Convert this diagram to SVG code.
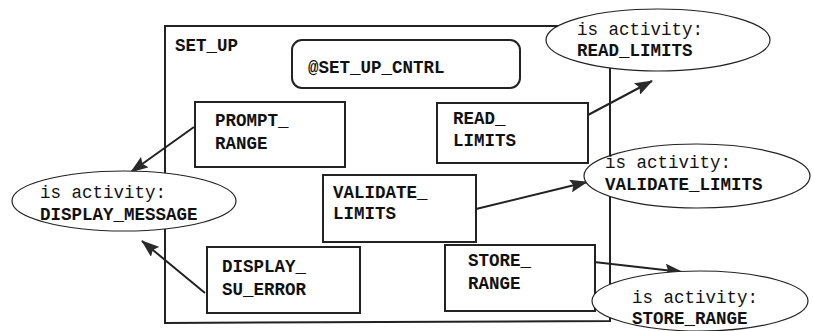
<svg xmlns="http://www.w3.org/2000/svg" width="813" height="331" viewBox="0 0 813 331">
  <defs>
    <marker id="arrow" viewBox="0 0 18 13" refX="17" refY="6.5" markerWidth="18" markerHeight="13" markerUnits="userSpaceOnUse" orient="auto">
      <path d="M0,0 L18,6.5 L0,13 L3,6.5 Z" fill="#2a2a2a"/>
    </marker>
  </defs>
  <style>
    text { font-family: "Liberation Mono", "Courier New", monospace; font-size: 17.5px; fill: #111; }
    .name { font-weight: bold; }
    .box { fill: #fff; stroke: #222; stroke-width: 2; }
    .frame { fill: none; stroke: #222; stroke-width: 2; }
    .bubble { fill: #fff; stroke: #222; stroke-width: 1.2; }
    .link { stroke: #222; stroke-width: 2; fill: none; marker-end: url(#arrow); }
  </style>

  <!-- SET_UP container -->
  <g id="set_up">
    <path class="frame" d="M165,26 L610,26 L610,321 L165,323 Z"/>
    <text class="name" x="175" y="51">SET_UP</text>
  </g>

  <g id="set_up_cntrl">
    <rect class="box" x="292" y="40" width="228" height="48" rx="10" ry="10"/>
    <text class="name" x="308" y="73">@SET_UP_CNTRL</text>
  </g>

  <g id="prompt_range">
    <rect class="box" x="195" y="102" width="150" height="65"/>
    <text class="name" x="215" y="126">PROMPT_</text>
    <text class="name" x="215" y="149">RANGE</text>
  </g>

  <g id="read_limits">
    <rect class="box" x="437" y="103" width="151" height="60"/>
    <text class="name" x="453" y="124">READ_</text>
    <text class="name" x="453" y="146">LIMITS</text>
  </g>

  <g id="validate_limits">
    <rect class="box" x="323" y="175" width="153" height="67"/>
    <text class="name" x="333" y="198">VALIDATE_</text>
    <text class="name" x="333" y="219">LIMITS</text>
  </g>

  <g id="display_su_error">
    <rect class="box" x="207" y="247" width="153" height="66"/>
    <text class="name" x="222" y="272">DISPLAY_</text>
    <text class="name" x="222" y="295">SU_ERROR</text>
  </g>

  <g id="store_range">
    <rect class="box" x="445" y="245" width="150" height="66"/>
    <text class="name" x="468" y="266">STORE_</text>
    <text class="name" x="468" y="289">RANGE</text>
  </g>

  <!-- activity links -->
  <g id="connectors">
    <line class="link" x1="588" y1="115" x2="652" y2="81"/>
    <line class="link" x1="476" y1="209" x2="587" y2="182"/>
    <line class="link" x1="594" y1="262" x2="682" y2="272"/>
    <line class="link" x1="194" y1="127" x2="131" y2="172"/>
    <line class="link" x1="205" y1="293" x2="142" y2="241"/>
  </g>

  <!-- activity bubbles -->
  <g id="act_read_limits">
    <ellipse class="bubble" cx="658" cy="40" rx="112" ry="31"/>
    <text x="577" y="35">is activity:</text>
    <text class="name" x="577" y="56">READ_LIMITS</text>
  </g>

  <g id="act_validate_limits">
    <ellipse class="bubble" cx="697" cy="176" rx="113" ry="32"/>
    <text x="605" y="168">is activity:</text>
    <text class="name" x="605" y="190">VALIDATE_LIMITS</text>
  </g>

  <g id="act_display_message">
    <ellipse class="bubble" cx="124" cy="201" rx="112" ry="30"/>
    <text x="40" y="198">is activity:</text>
    <text class="name" x="40" y="220">DISPLAY_MESSAGE</text>
  </g>

  <g id="act_store_range">
    <ellipse class="bubble" cx="700" cy="301" rx="108" ry="30"/>
    <text x="632" y="303">is activity:</text>
    <text class="name" x="632" y="324">STORE_RANGE</text>
  </g>
</svg>
